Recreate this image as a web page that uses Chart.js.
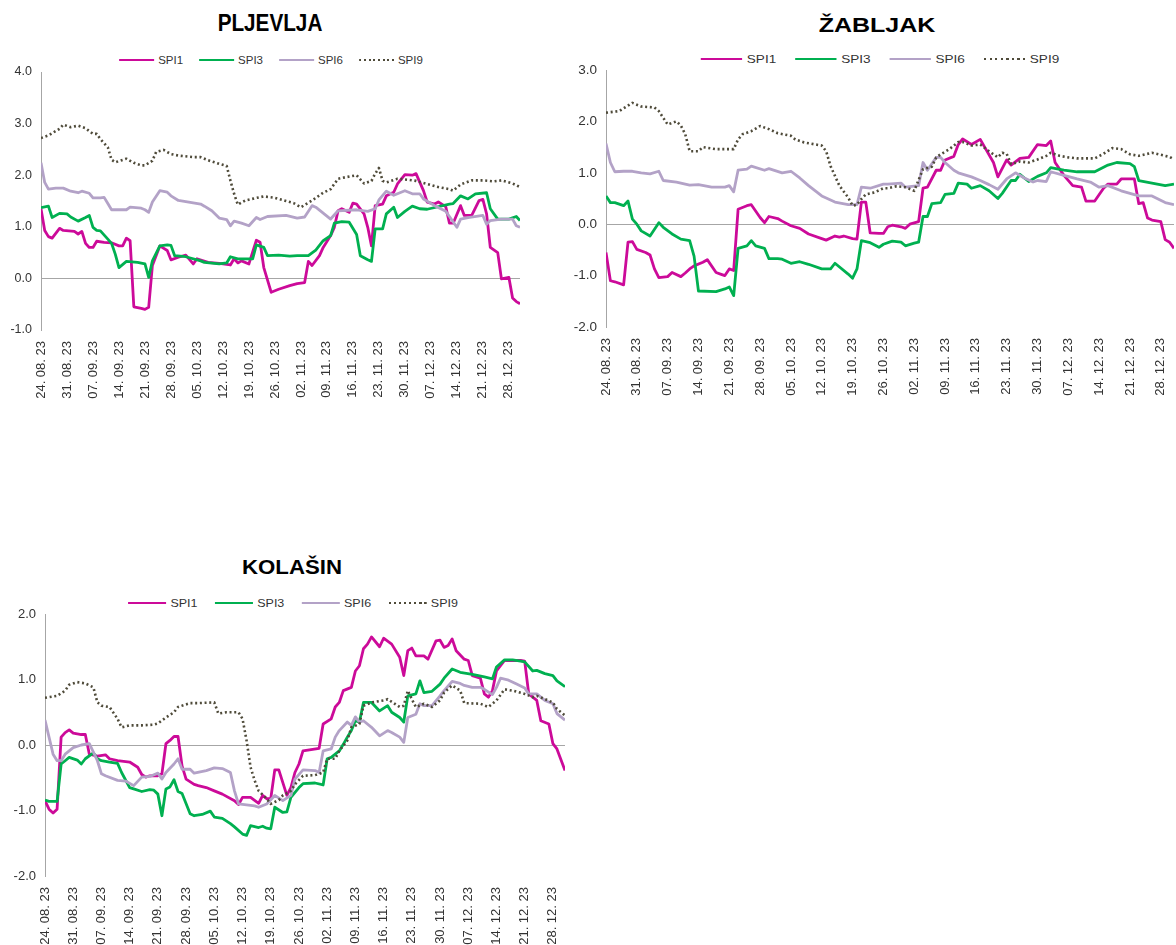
<!DOCTYPE html>
<html>
<head>
<meta charset="utf-8">
<script src="https://cdn.jsdelivr.net/npm/chart.js@4.4.1/dist/chart.umd.min.js"></script>
<style>
  html, body { margin: 0; padding: 0; background: #fff; }
  body { position: relative; width: 1176px; height: 945px; overflow: hidden; font-family: "Liberation Sans", Arial, sans-serif; }
  canvas { position: absolute; }
  .chart-title { position: absolute; font-weight: bold; color: #000; line-height: 1; white-space: nowrap; }
  .chart-legend { position: absolute; display: flex; align-items: center; height: 14px; white-space: nowrap; font-size: 11.5px; color: #333; }
  .legend-item { display: flex; align-items: center; margin-right: 16px; }
  .legend-item:last-child { margin-right: 0; }
  .legend-line { width: 35px; height: 2.8px; margin-right: 4px; }
</style>
</head>
<body>
<script>
// days counted from 24.08.23, one tick label per week
const tickLabels = [
  "24. 08. 23", "31. 08. 23", "07. 09. 23", "14. 09. 23", "21. 09. 23", "28. 09. 23",
  "05. 10. 23", "12. 10. 23", "19. 10. 23", "26. 10. 23", "02. 11. 23", "09. 11. 23",
  "16. 11. 23", "23. 11. 23", "30. 11. 23", "07. 12. 23", "14. 12. 23", "21. 12. 23", "28. 12. 23",
];
const lastDay = 129;
const seriesNames = ["SPI1", "SPI3", "SPI6", "SPI9"];
const seriesColors = ["#cc0a99", "#00b050", "#b3a2c7", "#4f4b3a"];

// [day, value]
const pljevljaSpi1 = [[0,1.35],[1,0.93],[2,0.81],[3,0.78],[5,0.97],[6,0.93],[9,0.91],[10,0.86],[11,0.91],[12,0.68],[13,0.6],[14,0.6],[15,0.72],[17,0.7],[19,0.69],[21,0.63],[22,0.63],[23,0.78],[24,0.73],[25,-0.55],[27,-0.58],[28,-0.6],[29,-0.56],[30,0.25],[32,0.63],[34,0.54],[35,0.36],[37,0.41],[39,0.45],[41,0.28],[42,0.38],[45,0.31],[48,0.29],[51,0.26],[52,0.38],[53,0.3],[54,0.34],[56,0.28],[58,0.74],[59,0.7],[60,0.21],[62,-0.27],[64,-0.21],[67,-0.14],[69,-0.1],[71,-0.08],[72,0.33],[73,0.25],[75,0.44],[76,0.6],[78,0.83],[79,0.99],[80,1.31],[81,1.35],[83,1.28],[84,1.46],[85,1.44],[87,1.25],[88,0.99],[89,0.63],[90,1.41],[92,1.44],[93,1.6],[95,1.67],[96,1.83],[98,2.01],[100,2.0],[101,2.03],[103,1.7],[104,1.48],[106,1.44],[107,1.48],[109,1.39],[110,1.07],[111,1.07],[113,1.41],[114,1.22],[116,1.22],[118,1.51],[119,1.53],[120,1.25],[121,0.6],[123,0.5],[124,-0.01],[126,0.02],[127,-0.38],[128,-0.45],[129,-0.49]];
const pljevljaSpi3 = [[0,1.37],[2,1.4],[3,1.18],[5,1.26],[7,1.25],[8,1.19],[10,1.11],[12,1.18],[13,1.22],[14,0.99],[15,0.93],[16,0.92],[18,0.76],[19,0.68],[20,0.47],[21,0.21],[23,0.33],[26,0.31],[28,0.28],[29,0.02],[30,0.34],[32,0.63],[34,0.65],[35,0.64],[36,0.44],[39,0.42],[43,0.34],[44,0.31],[48,0.28],[50,0.3],[51,0.42],[53,0.38],[57,0.38],[58,0.65],[60,0.6],[61,0.44],[64,0.45],[67,0.43],[69,0.44],[72,0.44],[74,0.55],[76,0.73],[78,0.83],[79,1.07],[81,1.1],[83,1.09],[85,0.85],[86,0.44],[88,0.36],[89,0.33],[90,0.96],[92,0.96],[93,1.25],[95,1.38],[96,1.18],[98,1.3],[100,1.4],[102,1.35],[104,1.34],[110,1.44],[111,1.45],[113,1.6],[115,1.54],[117,1.64],[120,1.66],[121,1.35],[123,1.15],[126,1.15],[128,1.2],[129,1.12]];
const pljevljaSpi6 = [[0,2.24],[1,1.86],[2,1.73],[4,1.75],[6,1.75],[8,1.69],[10,1.66],[11,1.69],[13,1.65],[14,1.56],[16,1.56],[17,1.57],[18,1.45],[19,1.33],[23,1.33],[24,1.38],[27,1.36],[28,1.33],[29,1.28],[30,1.48],[32,1.7],[34,1.67],[35,1.6],[37,1.51],[39,1.49],[43,1.44],[44,1.4],[46,1.31],[48,1.17],[50,1.14],[51,1.02],[52,1.11],[54,1.07],[56,1.02],[58,1.18],[59,1.14],[61,1.2],[66,1.22],[69,1.17],[71,1.19],[73,1.41],[74,1.38],[78,1.15],[80,1.31],[85,1.33],[88,1.3],[90,1.35],[91,1.52],[93,1.69],[95,1.61],[98,1.7],[100,1.64],[102,1.64],[103,1.54],[106,1.41],[109,1.3],[110,1.2],[112,0.99],[113,1.15],[115,1.18],[119,1.22],[120,1.05],[121,1.12],[124,1.15],[127,1.15],[128,1.02],[129,0.99]];
const pljevljaSpi9 = [[0,2.72],[2,2.77],[5,2.9],[6,2.98],[8,2.93],[10,2.96],[12,2.91],[14,2.8],[15,2.8],[16,2.7],[18,2.54],[19,2.3],[20,2.25],[23,2.32],[25,2.24],[27,2.19],[28,2.19],[30,2.28],[31,2.45],[33,2.49],[35,2.41],[37,2.38],[41,2.35],[43,2.35],[45,2.29],[48,2.22],[50,2.18],[51,1.9],[52,1.64],[53,1.43],[55,1.51],[58,1.56],[60,1.59],[63,1.56],[66,1.5],[68,1.46],[70,1.38],[73,1.51],[76,1.66],[78,1.73],[80,1.93],[82,1.96],[85,2.0],[87,1.84],[89,1.89],[90,2.03],[91,2.14],[92,1.89],[93,1.86],[96,1.93],[99,1.91],[101,1.89],[104,1.83],[107,1.77],[110,1.73],[111,1.7],[113,1.82],[116,1.9],[119,1.9],[122,1.88],[124,1.9],[127,1.84],[129,1.77]];

const zabljakSpi1 = [[0,-0.55],[1,-1.1],[2,-1.12],[4,-1.18],[5,-0.35],[6,-0.34],[7,-0.49],[9,-0.55],[10,-0.6],[11,-0.87],[12,-1.04],[14,-1.02],[15,-0.94],[17,-1.02],[18,-0.95],[19,-0.87],[20,-0.81],[22,-0.74],[23,-0.69],[25,-0.94],[26,-0.97],[27,-1.0],[28,-0.87],[29,-0.9],[30,0.29],[32,0.36],[33,0.38],[35,0.13],[36,0.03],[37,0.15],[39,0.11],[40,0.06],[42,-0.03],[44,-0.08],[46,-0.19],[49,-0.28],[50,-0.31],[52,-0.23],[53,-0.25],[54,-0.23],[56,-0.28],[57,-0.29],[58,0.43],[59,0.43],[60,-0.17],[62,-0.18],[63,-0.18],[64,-0.05],[65,-0.02],[67,-0.05],[68,-0.08],[69,0.0],[71,0.05],[72,0.7],[73,0.72],[75,1.05],[76,1.05],[77,1.25],[79,1.32],[80,1.55],[81,1.66],[83,1.55],[85,1.65],[86,1.5],[88,1.2],[89,0.92],[91,1.25],[92,1.15],[94,1.28],[96,1.3],[98,1.55],[100,1.53],[101,1.62],[102,1.2],[104,0.95],[106,0.75],[108,0.72],[109,0.45],[111,0.45],[113,0.7],[114,0.78],[116,0.78],[117,0.88],[120,0.88],[121,0.4],[122,0.42],[123,0.12],[124,0.08],[126,0.05],[127,-0.3],[128,-0.35],[129,-0.47]];
const zabljakSpi3 = [[0,0.55],[1,0.42],[2,0.42],[4,0.36],[5,0.45],[6,0.1],[7,0.0],[8,-0.13],[10,-0.23],[12,0.03],[13,-0.06],[15,-0.19],[17,-0.29],[19,-0.32],[20,-0.62],[21,-1.3],[25,-1.31],[27,-1.26],[28,-1.22],[29,-1.39],[30,-0.47],[32,-0.42],[33,-0.32],[34,-0.42],[36,-0.47],[37,-0.67],[39,-0.67],[40,-0.68],[42,-0.76],[44,-0.73],[46,-0.78],[49,-0.87],[51,-0.87],[52,-0.76],[55,-0.97],[56,-1.05],[57,-0.87],[58,-0.32],[60,-0.36],[62,-0.45],[63,-0.39],[65,-0.33],[67,-0.35],[68,-0.42],[70,-0.37],[71,-0.35],[72,0.15],[73,0.15],[74,0.4],[76,0.42],[77,0.58],[79,0.6],[80,0.8],[82,0.78],[83,0.7],[85,0.75],[87,0.65],[89,0.5],[90,0.6],[92,0.85],[93,0.85],[94,0.97],[96,0.83],[98,0.93],[100,1.0],[101,1.1],[104,1.05],[107,1.02],[111,1.02],[114,1.15],[116,1.2],[119,1.18],[120,1.12],[121,0.85],[124,0.8],[127,0.75],[129,0.78]];
const zabljakSpi6 = [[0,1.57],[1,1.2],[2,1.02],[4,1.03],[6,1.03],[8,1.0],[10,0.98],[12,1.03],[13,0.85],[16,0.82],[19,0.76],[21,0.77],[24,0.72],[27,0.72],[28,0.75],[29,0.63],[30,1.05],[32,1.07],[33,1.13],[36,1.05],[37,1.08],[40,1.0],[42,1.03],[44,0.9],[46,0.75],[49,0.55],[52,0.43],[55,0.38],[57,0.38],[58,0.72],[60,0.7],[63,0.78],[64,0.78],[67,0.8],[68,0.72],[71,0.75],[72,1.2],[73,1.05],[75,1.3],[76,1.3],[77,1.2],[79,1.05],[80,1.0],[83,0.92],[85,0.85],[87,0.77],[89,0.68],[91,0.88],[93,1.0],[95,0.9],[97,0.82],[98,0.85],[100,0.83],[101,1.02],[104,0.95],[107,0.88],[110,0.82],[112,0.72],[114,0.75],[117,0.65],[121,0.55],[124,0.55],[127,0.42],[129,0.38]];
const zabljakSpi9 = [[0,2.17],[3,2.2],[6,2.36],[8,2.29],[11,2.27],[12,2.2],[14,1.94],[16,2.0],[17,1.92],[18,1.75],[19,1.42],[21,1.42],[22,1.5],[25,1.46],[29,1.46],[30,1.65],[31,1.75],[33,1.81],[35,1.91],[37,1.85],[39,1.77],[42,1.72],[43,1.65],[45,1.59],[49,1.53],[50,1.42],[51,1.13],[52,0.94],[53,0.75],[55,0.52],[56,0.36],[57,0.38],[58,0.49],[59,0.58],[61,0.62],[63,0.7],[64,0.7],[66,0.74],[68,0.72],[70,0.65],[72,1.07],[74,1.12],[75,1.3],[76,1.36],[78,1.46],[80,1.6],[81,1.6],[83,1.53],[85,1.55],[87,1.42],[89,1.3],[90,1.39],[91,1.37],[92,1.17],[94,1.22],[96,1.2],[98,1.26],[100,1.33],[101,1.39],[103,1.33],[105,1.3],[107,1.28],[111,1.28],[113,1.37],[115,1.48],[117,1.46],[119,1.36],[121,1.33],[124,1.39],[126,1.35],[128,1.31],[129,1.26]];

const kolasinSpi1 = [[0,-0.85],[1,-0.98],[2,-1.04],[3,-0.98],[4,0.12],[5,0.19],[6,0.23],[7,0.18],[9,0.16],[10,0.16],[11,-0.14],[13,-0.17],[15,-0.15],[16,-0.21],[18,-0.24],[21,-0.26],[23,-0.34],[24,-0.45],[25,-0.49],[26,-0.47],[28,-0.47],[29,-0.44],[30,0.02],[31,0.07],[32,0.13],[33,0.13],[34,-0.32],[35,-0.52],[37,-0.6],[38,-0.62],[40,-0.65],[42,-0.7],[44,-0.75],[47,-0.85],[48,-0.91],[49,-0.8],[51,-0.8],[53,-0.89],[54,-0.77],[55,-0.82],[56,-0.82],[57,-0.38],[58,-0.38],[60,-0.77],[61,-0.65],[62,-0.42],[63,-0.29],[64,-0.09],[66,-0.07],[68,-0.05],[69,0.32],[71,0.4],[72,0.58],[73,0.65],[74,0.83],[76,0.88],[77,1.13],[78,1.21],[79,1.47],[80,1.54],[81,1.65],[83,1.5],[84,1.63],[86,1.54],[88,1.34],[89,1.06],[90,1.44],[91,1.48],[92,1.36],[94,1.36],[95,1.31],[97,1.59],[98,1.6],[99,1.49],[100,1.52],[101,1.62],[102,1.44],[104,1.31],[105,1.29],[106,1.06],[108,1.02],[109,0.78],[110,0.73],[111,0.83],[112,1.13],[114,1.29],[116,1.29],[118,1.29],[119,1.28],[120,0.78],[121,0.73],[122,0.68],[123,0.37],[125,0.32],[126,0.02],[127,-0.06],[129,-0.39]];
const kolasinSpi3 = [[0,-0.84],[1,-0.86],[3,-0.86],[4,-0.29],[5,-0.24],[6,-0.19],[8,-0.23],[9,-0.29],[10,-0.21],[12,-0.12],[13,-0.21],[14,-0.24],[16,-0.26],[18,-0.28],[19,-0.42],[21,-0.65],[22,-0.67],[24,-0.71],[26,-0.68],[27,-0.69],[28,-0.75],[29,-1.08],[30,-0.67],[31,-0.64],[32,-0.53],[33,-0.71],[34,-0.74],[36,-1.05],[37,-1.08],[39,-1.06],[41,-1.01],[42,-1.1],[44,-1.12],[46,-1.2],[47,-1.25],[49,-1.36],[50,-1.38],[51,-1.23],[53,-1.26],[54,-1.24],[55,-1.27],[56,-1.28],[57,-0.95],[59,-1.03],[60,-1.02],[61,-0.8],[63,-0.65],[64,-0.59],[67,-0.58],[69,-0.61],[70,-0.21],[71,-0.19],[73,-0.09],[74,0.01],[75,0.12],[76,0.22],[77,0.37],[78,0.35],[79,0.65],[81,0.65],[83,0.52],[85,0.6],[86,0.5],[88,0.42],[89,0.35],[90,0.75],[92,0.78],[93,0.98],[94,0.8],[96,0.82],[98,0.93],[99,1.02],[101,1.16],[103,1.11],[106,1.08],[109,1.04],[111,1.01],[112,1.19],[114,1.3],[116,1.3],[118,1.28],[119,1.27],[121,1.13],[122,1.14],[124,1.09],[126,1.06],[127,0.98],[129,0.89]];
const kolasinSpi6 = [[0,0.38],[1,0.12],[2,-0.14],[3,-0.24],[4,-0.24],[5,-0.14],[7,-0.04],[9,0.0],[11,0.02],[13,-0.24],[14,-0.44],[15,-0.47],[18,-0.54],[20,-0.55],[22,-0.62],[24,-0.49],[26,-0.48],[28,-0.43],[29,-0.52],[30,-0.42],[32,-0.29],[33,-0.21],[34,-0.37],[36,-0.37],[37,-0.43],[40,-0.39],[42,-0.35],[44,-0.36],[46,-0.42],[47,-0.7],[48,-0.9],[52,-0.93],[53,-0.95],[55,-0.9],[57,-0.77],[59,-0.85],[61,-0.77],[62,-0.52],[64,-0.38],[67,-0.39],[68,-0.42],[69,-0.09],[71,-0.06],[72,0.12],[73,0.22],[75,0.35],[76,0.3],[77,0.43],[78,0.35],[79,0.37],[81,0.27],[83,0.14],[85,0.22],[86,0.19],[88,0.12],[89,0.04],[90,0.42],[92,0.47],[93,0.63],[94,0.6],[96,0.6],[98,0.75],[99,0.83],[101,0.97],[103,0.94],[104,0.91],[106,0.88],[108,0.88],[109,0.85],[111,0.77],[112,0.88],[113,1.02],[115,0.99],[117,0.93],[119,0.87],[120,0.78],[122,0.78],[124,0.68],[126,0.63],[127,0.48],[129,0.38]];
const kolasinSpi9 = [[0,0.72],[3,0.75],[5,0.83],[6,0.92],[8,0.96],[10,0.94],[12,0.88],[13,0.65],[14,0.6],[16,0.58],[18,0.4],[19,0.27],[21,0.3],[24,0.3],[27,0.31],[28,0.33],[30,0.42],[32,0.5],[33,0.58],[36,0.64],[38,0.64],[42,0.65],[43,0.48],[45,0.5],[48,0.5],[49,0.4],[50,0.07],[51,-0.34],[52,-0.54],[53,-0.7],[55,-0.82],[56,-0.9],[58,-0.84],[59,-0.77],[61,-0.7],[62,-0.6],[64,-0.47],[67,-0.46],[69,-0.42],[70,-0.21],[72,-0.21],[73,-0.09],[75,0.07],[76,0.27],[78,0.32],[79,0.6],[81,0.65],[84,0.68],[85,0.7],[88,0.58],[89,0.6],[90,0.83],[91,0.7],[92,0.58],[94,0.63],[96,0.58],[98,0.68],[99,0.8],[101,0.91],[103,0.83],[104,0.64],[108,0.63],[110,0.58],[112,0.68],[114,0.85],[116,0.83],[119,0.78],[121,0.73],[122,0.75],[124,0.7],[126,0.65],[127,0.55],[129,0.45]];

const panels = [
  {
    title: "PLJEVLJA",
    series: [pljevljaSpi1, pljevljaSpi3, pljevljaSpi6, pljevljaSpi9],
    yMin: -1, yMax: 4,
    canvas: { left: 0, top: 0, width: 542, height: 420 },
    padding: { top: 72, right: 22, bottom: 10, left: 0 },
    yWidth: 41, xHeight: 80, yFont: 12.5,
    titleX: 270, titleTop: 12, titleSize: 23, titleStretch: 0.9,
    legendX: 271, legendY: 60, stretch: 1,
  },
  {
    title: "ŽABLJAK",
    series: [zabljakSpi1, zabljakSpi3, zabljakSpi6, zabljakSpi9],
    yMin: -2, yMax: 3,
    canvas: { left: 560, top: 0, width: 640, height: 420 },
    padding: { top: 70, right: 26, bottom: 13, left: 0 },
    yWidth: 46, xHeight: 80, yFont: 13.5,
    titleX: 877, titleTop: 14.5, titleSize: 20.5, titleStretch: 1.22,
    legendX: 880, legendY: 59, stretch: 1.18,
  },
  {
    title: "KOLAŠIN",
    series: [kolasinSpi1, kolasinSpi3, kolasinSpi6, kolasinSpi9],
    yMin: -2, yMax: 2,
    canvas: { left: 0, top: 590, width: 586, height: 355 },
    padding: { top: 24, right: 21, bottom: 0, left: 0 },
    yWidth: 45, xHeight: 69, yFont: 13,
    titleX: 292, titleTop: 557, titleSize: 20, titleStretch: 1.11,
    legendX: 293, legendY: 603, stretch: 1.086,
  },
];

function buildTitle(panel) {
  const el = document.createElement("div");
  el.className = "chart-title";
  el.textContent = panel.title;
  el.style.left = `${panel.titleX}px`;
  el.style.top = `${panel.titleTop}px`;
  el.style.fontSize = `${panel.titleSize}px`;
  el.style.transform = `translateX(-50%) scaleX(${panel.titleStretch})`;
  document.body.appendChild(el);
}

function buildLegend(panel) {
  const legend = document.createElement("div");
  legend.className = "chart-legend";
  legend.style.left = `${panel.legendX}px`;
  legend.style.top = `${panel.legendY - 7}px`;
  legend.style.transform = `translateX(-50%) scaleX(${panel.stretch})`;

  seriesNames.forEach((name, i) => {
    const item = document.createElement("span");
    item.className = "legend-item";
    const line = document.createElement("span");
    line.className = "legend-line";
    if (i === 3) {
      line.style.background = `repeating-linear-gradient(to right, ${seriesColors[i]} 0 2px, transparent 2px 4.7px)`;
    } else {
      line.style.background = seriesColors[i];
    }
    const label = document.createElement("span");
    label.textContent = name;
    item.appendChild(line);
    item.appendChild(label);
    legend.appendChild(item);
  });

  document.body.appendChild(legend);
}

function buildChart(panel) {
  const canvas = document.createElement("canvas");
  canvas.width = panel.canvas.width;
  canvas.height = panel.canvas.height;
  canvas.style.left = `${panel.canvas.left}px`;
  canvas.style.top = `${panel.canvas.top}px`;
  canvas.style.width = `${panel.canvas.width}px`;
  canvas.style.height = `${panel.canvas.height}px`;
  document.body.appendChild(canvas);

  const datasets = seriesNames.map((name, i) => ({
    label: name,
    data: panel.series[i].map(([day, value]) => ({ x: day, y: value })),
    borderColor: seriesColors[i],
    backgroundColor: seriesColors[i],
    borderWidth: i === 3 ? 2.6 : 2.8,
    borderDash: i === 3 ? [2, 2.7] : [],
    borderCapStyle: "butt",
    borderJoinStyle: "round",
    pointRadius: 0,
    tension: 0,
    fill: false,
    order: 4 - i,
  }));

  return new Chart(canvas.getContext("2d"), {
    type: "line",
    data: { datasets },
    options: {
      responsive: false,
      animation: false,
      devicePixelRatio: 1,
      layout: { padding: panel.padding },
      plugins: {
        legend: { display: false },
        title: { display: false },
        tooltip: { enabled: false },
      },
      scales: {
        x: {
          type: "linear",
          min: 0,
          max: lastDay,
          grid: { display: false, drawTicks: false },
          border: { display: false },
          afterBuildTicks: (axis) => {
            axis.ticks = tickLabels.map((_, i) => ({ value: i * 7 }));
          },
          afterFit: (axis) => {
            axis.height = panel.xHeight;
          },
          ticks: {
            autoSkip: false,
            minRotation: 90,
            maxRotation: 90,
            padding: 11,
            color: "#333",
            font: { family: "'Liberation Sans', Arial, sans-serif", size: 13 },
            callback: (value) => tickLabels[Math.round(value / 7)],
          },
        },
        y: {
          min: panel.yMin,
          max: panel.yMax,
          afterFit: (axis) => {
            axis.width = panel.yWidth;
          },
          grid: {
            drawTicks: false,
            lineWidth: 1,
            color: (ctx) => (ctx.tick && ctx.tick.value === 0 ? "#a6a6a6" : "rgba(0,0,0,0)"),
          },
          border: { display: true, color: "#a6a6a6", width: 1 },
          ticks: {
            stepSize: 1,
            padding: 9,
            color: "#333",
            font: { family: "'Liberation Sans', Arial, sans-serif", size: panel.yFont },
            callback: (value) => Number(value).toFixed(1),
          },
        },
      },
    },
  });
}

panels.forEach((panel) => {
  buildTitle(panel);
  buildLegend(panel);
  buildChart(panel);
});
</script>
</body>
</html>
